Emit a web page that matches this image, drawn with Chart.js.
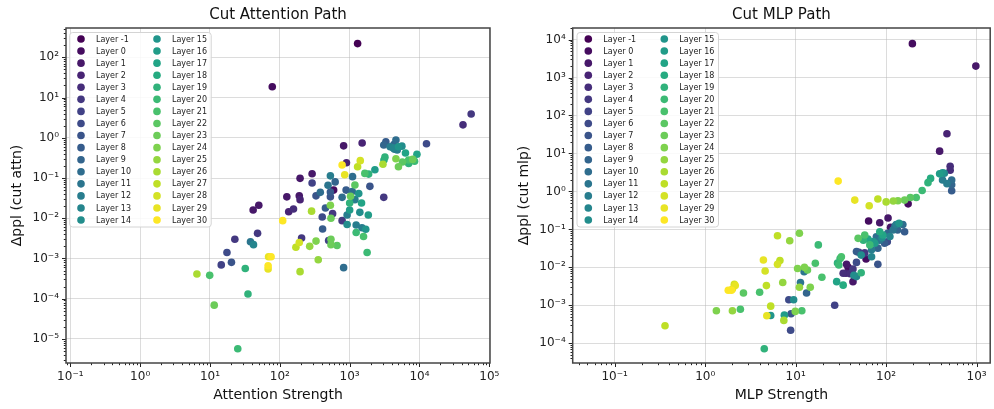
<!DOCTYPE html>
<html>
<head>
<meta charset="utf-8">
<script src="https://cdn.jsdelivr.net/npm/chart.js@4.4.1/dist/chart.umd.min.js"></script>
<style>
    html, body { margin: 0; padding: 0; background: #fff; }
    #wrap { position: relative; width: 994px; height: 409px; overflow: hidden; }
    canvas { position: absolute; top: 0; }
</style>
</head>
<body>
<div id="wrap">
    <canvas id="attnChart" width="520" height="409" style="left:0"></canvas>
    <canvas id="mlpChart" width="497" height="409" style="left:497px"></canvas>
</div>
<script>
// layer ids shown in the legend
const layers = [-1, 0, 1, 2, 3, 4, 5, 6, 7, 8, 9, 10, 11, 12, 13, 14,
                15, 16, 17, 18, 19, 20, 21, 22, 23, 24, 25, 26, 27, 28, 29, 30];

// Cut Attention Path: strength, delta ppl, layer
const attnStrength = [1300, 78, 820, 1510, 55000, 42000, 12600, 3080, 195, 290,
    290, 126, 190, 195, 134, 157, 41.5, 50, 48, 22.7,
    17.5, 14.5, 20.3, 38, 42, 32, 35, 25, 11.5, 9.9,
    6.5, 69, 75, 68, 68, 110, 170, 190, 195, 268,
    285, 330, 355, 205, 500, 540, 540, 660, 820, 530,
    540, 405, 410, 450, 330, 380, 530, 490, 620, 590,
    530, 530, 570, 780, 780, 780, 850, 900, 890, 920,
    920, 1000, 1000, 1030, 1090, 1100, 1190, 1190, 1350, 1400,
    1480, 1240, 1240, 1500, 1580, 1700, 1780, 1850, 1950, 1420,
    1300, 1650, 1870, 2300, 3080, 3300, 3100, 3200, 3000, 3800,
    4400, 4600, 5000, 5600, 6300, 4600, 5000, 5700, 7000, 7000,
    8500, 9200, 8000, 4200, 4800, 4300];
const attnDelta = [220, 18.6, 0.63, 0.74, 3.9, 2.1, 0.71, 0.033, 0.098, 0.128,
    0.075, 0.034, 0.036, 0.029, 0.0145, 0.017, 0.016, 0.021, 0.0042, 0.003,
    0.0014, 0.00069, 0.0008, 0.0026, 0.0022, 0.00056, 0.00013, 0.0000057, 0.000069, 0.00038,
    0.00041, 0.0011, 0.0011, 0.00066, 0.00055, 0.0087, 0.0019, 0.0025, 0.00047, 0.002,
    0.015, 0.0027, 0.00093, 0.0032, 0.0028, 0.003, 0.0022, 0.0021, 0.00059, 0.021,
    0.01, 0.0107, 0.0054, 0.018, 0.036, 0.044, 0.113, 0.066, 0.08, 0.05,
    0.045, 0.034, 0.013, 0.033, 0.0087, 0.21, 0.12, 0.24, 0.05, 0.012,
    0.007, 0.016, 0.024, 0.035, 0.046, 0.108, 0.067, 0.029, 0.041, 0.014,
    0.024, 0.0068, 0.0044, 0.0058, 0.0035, 0.0053, 0.0014, 0.012, 0.062, 0.27,
    0.19, 0.13, 0.125, 0.16, 0.66, 0.8, 0.28, 0.33, 0.22, 0.6,
    0.52, 0.88, 0.6, 0.62, 0.42, 0.3, 0.19, 0.25, 0.28, 0.23,
    0.26, 0.39, 0.29, 0.56, 0.5, 0.68];
const attnLayer = [-1, 0, 1, 2, 4, 3, 6, 4, 1, 1,
    5, 1, 1, 2, 2, 3, 1, 1, 4, 4,
    6, 5, 7, 11, 13, 19, 19, 20, 23, 21,
    26, 29, 30, 30, 29, 30, 27, 28, 26, 25,
    26, 24, 25, 4, 5, 23, 23, 22, 10, 24,
    23, 6, 8, 8, 7, 10, 12, 11, 9, 0,
    8, 7, 4, 10, 4, 30, 29, 2, 8, 12,
    14, 16, 19, 23, 10, 10, 22, 12, 15, 14,
    17, 12, 20, 12, 21, 15, 20, 16, 7, 28,
    27, 21, 19, 16, 9, 8, 18, 19, 26, 12,
    11, 10, 15, 14, 17, 24, 23, 22, 21, 19,
    20, 17, 23, 13, 12, 9];

// Cut MLP Path: strength, delta ppl, layer
const mlpStrength = [195, 980, 470, 390, 510, 510, 530, 530, 530, 440,
    420, 390, 420, 470, 310, 290, 250, 215, 185, 160,
    135, 120, 100, 81, 65, 45, 29.5, 175, 64, 85,
    105, 112, 129, 153, 160, 134, 119, 139, 104, 92,
    85, 78, 85, 75, 96, 103, 81, 69, 66, 56,
    58, 49, 47, 53, 69, 60, 81, 47, 36.5, 33.5,
    43, 47, 43, 53, 32, 30, 28.4, 33.5, 27, 36,
    40, 17.8, 16.5, 19.5, 11, 8.6, 6.3, 6.7, 6.3, 4.4,
    4.6, 4.75, 7.2, 12.5, 13.5, 10.5, 12.4, 11.3, 11, 14.5,
    13.2, 8.4, 9.5, 8.9, 8.8, 7.5, 7.4, 9.9, 11.7, 5.3,
    5.3, 4.8, 4.5, 4.0, 2.65, 2.15, 2.1, 1.8, 1.95, 2.0,
    2.45, 2.0, 1.33, 0.36, 50, 38, 63, 90, 72, 110,
    125, 58, 44, 29, 31];
const mlpDelta = [7800, 2000, 33, 11.5, 4.6, 3.6, 2.0, 1.5, 1.04, 3.0,
    3.1, 2.9, 2.0, 1.6, 2.2, 1.7, 1.06, 0.69, 0.69, 0.59,
    0.57, 0.56, 0.53, 0.63, 0.42, 0.59, 1.87, 0.47, 0.166, 0.15,
    0.2, 0.113, 0.135, 0.135, 0.087, 0.096, 0.096, 0.144, 0.079, 0.071,
    0.087, 0.064, 0.052, 0.043, 0.043, 0.047, 0.032, 0.029, 0.039, 0.052,
    0.071, 0.058, 0.026, 0.021, 0.019, 0.0166, 0.012, 0.0135, 0.012, 0.007,
    0.009, 0.0057, 0.0042, 0.0072, 0.019, 0.0115, 0.0042, 0.0034, 0.001, 0.007,
    0.0068, 0.039, 0.0128, 0.0055, 0.079, 0.05, 0.068, 0.0152, 0.012, 0.0156,
    0.008, 0.0033, 0.004, 0.01, 0.0085, 0.0093, 0.0077, 0.004, 0.003, 0.003,
    0.0021, 0.0014, 0.0014, 0.0006, 0.00022, 0.00055, 0.0004, 0.00069, 0.00072, 0.00095,
    0.00054, 0.00053, 0.000072, 0.0022, 0.0021, 0.0033, 0.0036, 0.0025, 0.0025, 0.0027,
    0.00079, 0.00072, 0.00072, 0.00029, 0.025, 0.01, 0.056, 0.06, 0.048, 0.065,
    0.12, 0.024, 0.0062, 0.013, 0.017];
const mlpLayer = [0, 1, 2, 1, 3, 3, 10, 9, 8, 13,
    15, 16, 12, 12, 18, 19, 20, 21, 22, 23,
    24, 25, 26, 27, 28, 29, 30, 0, 0, 1,
    1, 1, 12, 10, 8, 9, 11, 15, 9, 17,
    18, 10, 11, 16, 8, 6, 9, 12, 20, 19,
    21, 22, 8, 14, 13, 0, 7, 6, 1, 3,
    4, 13, 1, 19, 21, 20, 17, 18, 5, 2,
    3, 20, 21, 21, 24, 25, 27, 27, 28, 29,
    28, 27, 25, 24, 23, 24, 11, 11, 25, 24,
    9, 6, 14, 7, 6, 16, 26, 24, 21, 27,
    15, 29, 19, 21, 22, 29, 28, 30, 30, 29,
    21, 25, 24, 27, 5, 0, 17, 14, 15, 13,
    10, 4, 14, 19, 20];

const FONT = "'DejaVu Sans', sans-serif";

// viridis anchors, interpolated per layer
const viridisStops = ['#440154', '#482475', '#414487', '#355f8d', '#2a788e', '#21918c',
                      '#22a884', '#44bf70', '#7ad151', '#bddf26', '#fde725'];
function viridis(t) {
    const p = t * (viridisStops.length - 1);
    const i = Math.min(Math.floor(p), viridisStops.length - 2);
    const f = p - i;
    const a = viridisStops[i], b = viridisStops[i + 1];
    const ch = (h, k) => parseInt(h.substr(1 + 2 * k, 2), 16);
    const c = [0, 1, 2].map(k => Math.round(ch(a, k) + (ch(b, k) - ch(a, k)) * f));
    return `rgb(${c[0]},${c[1]},${c[2]})`;
}
const layerColors = layers.map((l, i) => viridis(i / (layers.length - 1)));

const supMap = { '-': '⁻', '0': '⁰', '1': '¹', '2': '²', '3': '³', '4': '⁴', '5': '⁵', '6': '⁶', '7': '⁷', '8': '⁸', '9': '⁹' };
const isDecade = v => Math.abs(Math.log10(v) - Math.round(Math.log10(v))) < 1e-9;
const powLabel = v => '10' + String(Math.round(Math.log10(v))).split('').map(c => supMap[c]).join('');

function logTicks(lo, hi) {
    const out = [];
    for (let e = Math.floor(Math.log10(lo)); e <= Math.ceil(Math.log10(hi)); e++) {
        for (let m = 1; m <= 9; m++) {
            const v = Number((m * Math.pow(10, e)).toPrecision(12));
            if (v >= lo && v <= hi) out.push({ value: v, major: m === 1 });
        }
    }
    return out;
}

function buildDatasets(xs, ys, ls) {
    return layers.map((layer, i) => ({
        label: `Layer ${layer}`,
        data: xs.map((x, k) => ({ x: x, y: ys[k], l: ls[k] })).filter(p => p.l === layer),
        backgroundColor: layerColors[i],
        borderWidth: 0,
        pointRadius: 3.8,
        pointHoverRadius: 3.8,
        order: layers.length - i
    }));
}

// frame, tick marks, title and two-column legend
const decorPlugin = {
    id: 'decor',
    afterDraw(chart) {
        const opts = chart.options.plugins.decor;
        const ctx = chart.ctx;
        const a = chart.chartArea;
        const xs = chart.scales.x, ys = chart.scales.y;
        ctx.save();
        ctx.strokeStyle = '#222';
        ctx.lineWidth = 1;
        xs.ticks.forEach(t => {
            const px = Math.round(xs.getPixelForValue(t.value)) + 0.5;
            const len = t.major ? 4 : 2.2;
            ctx.beginPath(); ctx.moveTo(px, a.bottom); ctx.lineTo(px, a.bottom + len); ctx.stroke();
        });
        ys.ticks.forEach(t => {
            const py = Math.round(ys.getPixelForValue(t.value)) + 0.5;
            const len = t.major ? 4 : 2.2;
            ctx.beginPath(); ctx.moveTo(a.left - len, py); ctx.lineTo(a.left, py); ctx.stroke();
        });
        ctx.strokeStyle = '#444';
        ctx.lineWidth = 1.5;
        ctx.strokeRect(a.left, a.top, a.right - a.left, a.bottom - a.top);

        // title
        ctx.fillStyle = '#111';
        ctx.font = `15px ${FONT}`;
        ctx.textAlign = 'center';
        ctx.textBaseline = 'middle';
        ctx.fillText(opts.title, (a.left + a.right) / 2, 15.5);

        // legend
        const lx = opts.legendLeft, ly = 32.5, lw = 141.5, lh = 194.5;
        ctx.fillStyle = 'rgba(255,255,255,0.85)';
        ctx.strokeStyle = '#d4d4d4';
        ctx.lineWidth = 1;
        ctx.beginPath();
        ctx.roundRect(lx, ly, lw, lh, 3);
        ctx.fill(); ctx.stroke();
        ctx.font = `8px ${FONT}`;
        ctx.textAlign = 'left';
        layers.forEach((layer, i) => {
            const col = i < 16 ? 0 : 1;
            const row = i % 16;
            const y = 39 + row * 12.07;
            const mx = lx + 11.3 + col * 76;
            ctx.fillStyle = layerColors[i];
            ctx.beginPath(); ctx.arc(mx, y, 3.8, 0, Math.PI * 2); ctx.fill();
            ctx.fillStyle = '#222';
            ctx.fillText(`Layer ${layer}`, mx + 15, y + 0.5);
        });
        ctx.restore();
    }
};

function makeChart(canvasId, cfg) {
    const gridColor = c => (c.tick && c.tick.major) ? 'rgba(185,185,185,0.5)' : 'rgba(0,0,0,0)';
    return new Chart(document.getElementById(canvasId), {
        type: 'scatter',
        data: { datasets: buildDatasets(cfg.xs, cfg.ys, cfg.ls) },
        options: {
            responsive: false,
            animation: false,
            devicePixelRatio: 1,
            layout: { padding: { top: 28, right: cfg.padRight, bottom: 0, left: 0 } },
            plugins: {
                legend: { display: false },
                title: { display: false },
                tooltip: { enabled: false },
                decor: { title: cfg.title, legendLeft: cfg.legendLeft }
            },
            scales: {
                x: {
                    type: 'logarithmic',
                    min: cfg.xRange[0],
                    max: cfg.xRange[1],
                    afterBuildTicks: s => { s.ticks = logTicks(cfg.xRange[0], cfg.xRange[1]); },
                    afterFit: s => { s.height = 46; s.paddingLeft = 0; s.paddingRight = 0; },
                    ticks: {
                        autoSkip: false, maxRotation: 0, padding: 7,
                        color: '#222', font: { family: FONT, size: 12 },
                        callback: v => isDecade(v) ? powLabel(v) : ''
                    },
                    grid: { drawTicks: false, color: gridColor, lineWidth: 1 },
                    border: { display: false },
                    title: { display: true, text: cfg.xTitle, color: '#111', font: { family: FONT, size: 14 }, padding: { top: 0, bottom: 5.6 } }
                },
                y: {
                    type: 'logarithmic',
                    min: cfg.yRange[0],
                    max: cfg.yRange[1],
                    afterBuildTicks: s => { s.ticks = logTicks(cfg.yRange[0], cfg.yRange[1]); },
                    afterFit: s => { s.width = cfg.yWidth; s.paddingTop = 0; s.paddingBottom = 0; },
                    ticks: {
                        autoSkip: false, padding: 7,
                        color: '#222', font: { family: FONT, size: 12 },
                        callback: v => isDecade(v) ? powLabel(v) : ''
                    },
                    grid: { drawTicks: false, color: gridColor, lineWidth: 1 },
                    border: { display: false },
                    title: { display: true, text: cfg.yTitle, color: '#111', font: { family: FONT, size: 14 }, padding: { top: cfg.yTitlePad, bottom: 0 } }
                }
            }
        },
        plugins: [decorPlugin]
    });
}

makeChart('attnChart', {
    xs: attnStrength, ys: attnDelta, ls: attnLayer,
    title: 'Cut Attention Path',
    xTitle: 'Attention Strength',
    yTitle: 'Δppl (cut attn)',
    xRange: [Math.pow(10, -1.062), Math.pow(10, 5.01)],
    yRange: [Math.pow(10, -5.6), Math.pow(10, 2.73)],
    yWidth: 66, yTitlePad: 9, padRight: 30, legendLeft: 69.7
});

makeChart('mlpChart', {
    xs: mlpStrength, ys: mlpDelta, ls: mlpLayer,
    title: 'Cut MLP Path',
    xTitle: 'MLP Strength',
    yTitle: 'Δppl (cut mlp)',
    xRange: [Math.pow(10, -1.464), Math.pow(10, 3.15)],
    yRange: [Math.pow(10, -4.52), Math.pow(10, 4.305)],
    yWidth: 75.7, yTitlePad: 19, padRight: 1, legendLeft: 80
});
</script>
</body>
</html>
